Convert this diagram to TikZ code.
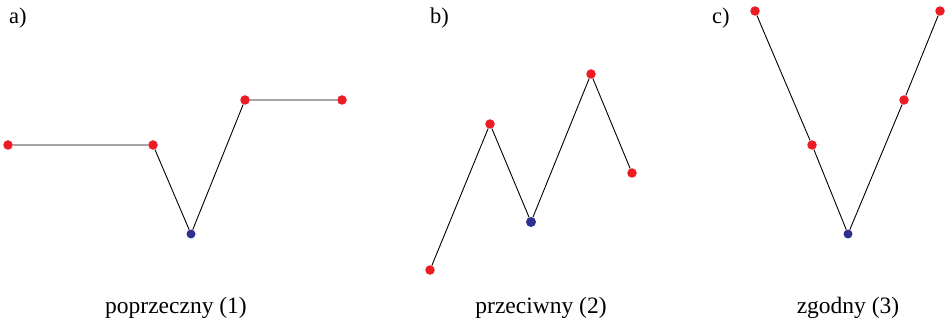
\documentclass[tikz,border=0pt]{standalone}
\usepackage{fontspec}
\setmainfont{Liberation Serif}
\definecolor{dotred}{RGB}{237,28,36}
\definecolor{dotblue}{RGB}{46,49,146}
\tikzset{
  reddot/.style={circle, fill=dotred, inner sep=0pt, minimum size=9.5pt},
  bluedot/.style={circle, fill=dotblue, inner sep=0pt, minimum size=9pt},
  chain/.style={draw=black, line width=0.9pt},
  panel/.style={anchor=base west, inner sep=0pt, font=\fontsize{22.5}{27}\selectfont},
  caption/.style={anchor=base, inner sep=0pt, font=\fontsize{23.5}{28}\selectfont}
}

\begin{document}
\begin{tikzpicture}[x=1pt,y=-1pt]
\useasboundingbox (0,0) rectangle (947,320);
% a)
\node[panel] (la) at (9,24) {a)};
\node[reddot] (a1) at (8,145) {};
\node[reddot] (a2) at (153,145) {};
\node[bluedot] (a3) at (191,234) {};
\node[reddot] (a4) at (245,100) {};
\node[reddot] (a5) at (342,100) {};
\draw[chain] (a1) -- (a2) -- (a3) -- (a4) -- (a5);
\node[caption] (ca) at (176,313) {poprzeczny (1)};
% b)
\node[panel] (lb) at (430,24) {b)};
\node[reddot] (b1) at (430,270) {};
\node[reddot] (b2) at (490,124) {};
\node[bluedot, minimum size=10pt] (b3) at (531,222) {};
\node[reddot] (b4) at (591,74) {};
\node[reddot] (b5) at (632,173) {};
\draw[chain] (b1) -- (b2) -- (b3) -- (b4) -- (b5);
\node[caption] (cb) at (541,313) {przeciwny (2)};
% c)
\node[panel] (lc) at (712,24) {c)};
\node[reddot] (c1) at (755,11) {};
\node[reddot] (c2) at (812,145) {};
\node[bluedot] (c3) at (848,234) {};
\node[reddot] (c4) at (904,100) {};
\node[reddot] (c5) at (940,11) {};
\draw[chain] (c1) -- (c2) -- (c3) -- (c4) -- (c5);
\node[caption] (cc) at (848,313) {zgodny (3)};
\end{tikzpicture}
\end{document}
